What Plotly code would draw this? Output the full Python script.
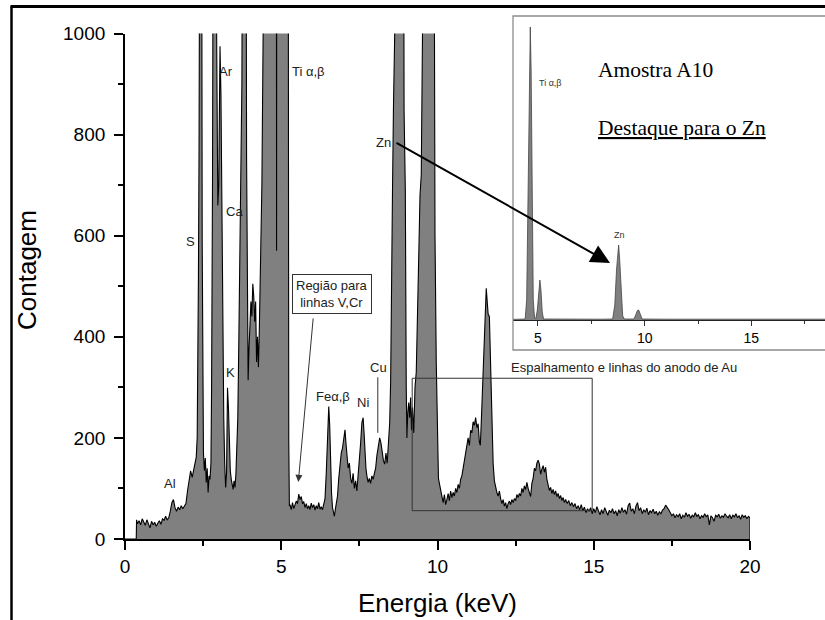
import plotly.graph_objects as go

# ---------------- main spectrum ----------------
energy_kev = [
    0.00, 0.36, 0.37, 0.40, 0.45, 0.50, 0.55, 0.60, 0.65, 0.70, 0.75, 0.80, 0.85, 0.90, 0.95,
    1.00, 1.05, 1.10, 1.15, 1.20, 1.25, 1.30, 1.35, 1.40, 1.45, 1.50, 1.55, 1.60, 1.65, 1.70,
    1.75, 1.80, 1.85, 1.90, 1.95, 2.00, 2.05, 2.10, 2.15, 2.20, 2.25, 2.28, 2.31, 2.33, 2.35,
    2.37, 2.39, 2.42, 2.45, 2.47, 2.49, 2.51, 2.54, 2.57, 2.60, 2.63, 2.66, 2.69, 2.72, 2.75,
    2.77, 2.80, 2.83, 2.88, 2.91, 2.94, 2.97, 3.00, 3.04, 3.07, 3.10, 3.13, 3.16, 3.19, 3.22,
    3.25, 3.28, 3.31, 3.34, 3.37, 3.40, 3.43, 3.46, 3.49, 3.52, 3.55, 3.58, 3.61, 3.64, 3.67,
    3.71, 3.74, 3.77, 3.82, 3.87, 3.89, 3.92, 3.94, 3.97, 4.00, 4.03, 4.06, 4.09, 4.12, 4.15,
    4.18, 4.21, 4.24, 4.27, 4.30, 4.34, 4.38, 4.42, 4.45, 4.84, 4.85, 4.86, 5.20, 5.22, 5.24,
    5.26, 5.28, 5.32, 5.36, 5.40, 5.44, 5.48, 5.52, 5.56, 5.60, 5.64, 5.68, 5.72, 5.76, 5.80,
    5.84, 5.88, 5.92, 5.96, 6.00, 6.04, 6.08, 6.12, 6.16, 6.20, 6.24, 6.28, 6.32, 6.36, 6.40,
    6.44, 6.48, 6.52, 6.55, 6.58, 6.61, 6.64, 6.67, 6.70, 6.73, 6.76, 6.80, 6.84, 6.88, 6.92,
    6.96, 7.00, 7.04, 7.07, 7.10, 7.14, 7.18, 7.22, 7.26, 7.30, 7.34, 7.38, 7.42, 7.46, 7.50,
    7.54, 7.58, 7.62, 7.65, 7.68, 7.71, 7.74, 7.78, 7.82, 7.86, 7.90, 7.94, 7.98, 8.02, 8.06,
    8.10, 8.15, 8.19, 8.23, 8.27, 8.31, 8.35, 8.39, 8.43, 8.47, 8.50, 8.53, 8.56, 8.59, 8.63,
    8.66, 8.90, 8.93, 8.97, 9.00, 9.02, 9.05, 9.08, 9.11, 9.14, 9.17, 9.20, 9.24, 9.28, 9.32,
    9.36, 9.40, 9.44, 9.48, 9.52, 9.55, 9.86, 9.89, 9.92, 9.96, 10.00, 10.03, 10.06, 10.10, 10.14, 10.18,
    10.22, 10.26, 10.30, 10.34, 10.38, 10.42, 10.46, 10.50, 10.54, 10.58, 10.62, 10.66, 10.70, 10.74, 10.78,
    10.82, 10.86, 10.90, 10.94, 10.98, 11.02, 11.06, 11.10, 11.14, 11.18, 11.22, 11.26, 11.30, 11.34, 11.37,
    11.40, 11.44, 11.48, 11.50, 11.53, 11.56, 11.59, 11.62, 11.66, 11.70, 11.74, 11.78, 11.82, 11.86, 11.90,
    11.94, 11.98, 12.02, 12.06, 12.10, 12.14, 12.18, 12.22, 12.26, 12.30, 12.34, 12.38, 12.42, 12.46, 12.50,
    12.54, 12.58, 12.62, 12.66, 12.70, 12.74, 12.78, 12.82, 12.86, 12.90, 12.94, 12.98, 13.02, 13.06, 13.10,
    13.14, 13.18, 13.22, 13.26, 13.30, 13.34, 13.38, 13.42, 13.46, 13.50, 13.54, 13.58, 13.62, 13.66, 13.70,
    13.74, 13.78, 13.82, 13.86, 13.90, 13.94, 13.98, 14.02, 14.06, 14.10, 14.15, 14.20, 14.25, 14.30, 14.35,
    14.40, 14.45, 14.50, 14.55, 14.60, 14.65, 14.70, 14.75, 14.80, 14.85, 14.90, 14.95, 15.00, 15.05, 15.10,
    15.15, 15.20, 15.25, 15.30, 15.35, 15.40, 15.45, 15.50, 15.55, 15.60, 15.65, 15.70, 15.75, 15.80, 15.85,
    15.90, 15.95, 16.00, 16.05, 16.10, 16.15, 16.20, 16.25, 16.30, 16.35, 16.40, 16.45, 16.50, 16.55, 16.60,
    16.65, 16.70, 16.75, 16.80, 16.85, 16.90, 16.95, 17.00, 17.05, 17.10, 17.15, 17.20, 17.25, 17.30, 17.35,
    17.40, 17.45, 17.50, 17.55, 17.60, 17.65, 17.70, 17.75, 17.80, 17.85, 17.90, 17.95, 18.00, 18.05, 18.10,
    18.15, 18.20, 18.25, 18.30, 18.35, 18.40, 18.45, 18.50, 18.55, 18.60, 18.65, 18.70, 18.75, 18.80, 18.85,
    18.90, 18.95, 19.00, 19.05, 19.10, 19.15, 19.20, 19.25, 19.30, 19.35, 19.40, 19.45, 19.50, 19.55, 19.60,
    19.65, 19.70, 19.75, 19.80, 19.85, 19.90, 19.95, 20.00, 20.00,
]
counts = [
    0, 0, 38, 30, 36, 28, 40, 33, 27, 38, 30, 22, 35, 28, 33,
    25, 31, 36, 29, 40, 37, 45, 38, 42, 55, 72, 78, 62, 55, 63,
    58, 66, 60, 64, 70, 95, 118, 135, 122, 140, 150, 162, 200, 310, 520,
    780, 1500, 2000, 1500, 590, 300, 170, 135, 160, 112, 140, 92, 125, 118, 150,
    290, 700, 1500, 1800, 1200, 850, 660, 700, 975, 880, 600, 400, 240, 150, 102,
    130, 299, 260, 170, 135, 118, 108, 98, 115, 102, 130, 170, 240, 380, 530,
    700, 900, 1500, 2000, 1500, 760, 400, 314, 380, 420, 470, 440, 505, 480, 430,
    470, 350, 400, 340, 420, 560, 700, 1000, 2000, 2000, 570, 2000, 2000, 1500, 200,
    65, 68, 58, 72, 60, 66, 75, 70, 89, 78, 84, 70, 74, 62, 70,
    60, 66, 58, 71, 62, 68, 57, 66, 60, 72, 59, 64, 58, 67, 80,
    130, 200, 262, 225, 150, 90, 62, 55, 45, 58, 70, 85, 120, 150, 170,
    180, 205, 216, 190, 165, 140, 150, 120, 110, 130, 100, 115, 95, 125, 150,
    190, 230, 240, 210, 170, 140, 125, 112, 120, 110, 125, 118, 130, 140, 165,
    180, 200, 190, 170, 155, 148, 170, 150, 185, 230, 310, 450, 690, 850, 1100,
    2000, 2000, 850, 690, 300, 200, 250, 270, 240, 280, 215, 260, 210, 300, 330,
    420, 560, 680, 720, 1000, 2000, 2000, 1000, 600, 350, 180, 120, 110, 95, 80, 72,
    88, 68, 78, 90, 76, 95, 82, 92, 85, 100, 92, 108, 100, 118, 125,
    140, 155, 175, 190, 200, 185, 215, 210, 232, 225, 240, 220, 228, 192, 185,
    230, 300, 380, 400, 470, 496, 470, 445, 440, 330, 220, 150, 115, 100, 92,
    85, 95, 80, 70, 78, 65, 72, 60, 70, 75, 68, 78, 72, 80, 76,
    88, 82, 90, 85, 100, 92, 105, 98, 112, 100, 92, 84, 110, 120, 140,
    135, 150, 156, 148, 128, 138, 145, 132, 142, 118, 105, 96, 102, 90, 98,
    88, 95, 84, 90, 80, 86, 76, 82, 72, 78, 70, 76, 66, 72, 64,
    70, 60, 66, 58, 68, 56, 63, 52, 60, 55, 62, 50, 60, 52, 64,
    55, 48, 58, 50, 62, 54, 47, 57, 52, 60, 50, 56, 46, 58, 51,
    62, 53, 58, 49, 66, 71, 55, 60, 50, 65, 72, 56, 62, 50, 58,
    53, 61, 48, 56, 52, 59, 50, 55, 47, 54, 50, 57, 60, 67, 63,
    58, 52, 46, 50, 42, 48, 44, 50, 40, 47, 43, 52, 45, 49, 41,
    47, 44, 52, 45, 48, 40, 46, 43, 50, 44, 48, 28, 46, 42, 35,
    47, 44, 49, 41, 46, 43, 50, 45, 42, 48, 40, 47, 44, 50, 42,
    46, 39, 48, 43, 46, 40, 45, 42, 0,
]

# ---------------- inset spectrum ----------------
inset_energy = [3.83, 4.40, 4.47, 4.53, 4.60, 4.64, 4.68, 4.73, 4.78, 4.84, 4.90, 4.97, 5.04, 5.09,
                5.14, 5.20, 5.26, 6.00, 7.00, 8.00, 8.50, 8.60, 8.68, 8.74, 8.78, 8.83, 8.90, 8.97,
                9.05, 9.50, 9.58, 9.66, 9.72, 9.80, 9.88, 11.0, 13.0, 15.0, 17.0, 18.5]
inset_counts = [6, 10, 200, 1200, 2700, 2930, 2500, 1000, 200, 20, 15, 100, 330, 400,
                300, 80, 10, 8, 8, 8, 10, 150, 500, 720, 750, 600, 250, 40,
                10, 10, 50, 95, 100, 50, 10, 8, 8, 8, 8, 8]

# axis ticks
main_x_ticks = [0, 5, 10, 15, 20]
main_y_ticks = [0, 200, 400, 600, 800, 1000]
inset_x_ticks = [5, 10, 15]

# peak labels (text, energy, counts)
peak_labels = [("Al", 1.44, 109), ("S", 2.11, 588), ("Ar", 3.23, 924), ("Ca", 3.49, 647),
               ("K", 3.36, 330), ("Fe\u03b1,\u03b2", 6.66, 281), ("Ni", 7.62, 271),
               ("Cu", 8.10, 340), ("Zn", 8.26, 785)]

W, H = 825, 620
SANS = "Liberation Sans, Arial, sans-serif"
SERIF = "Liberation Serif, Times New Roman, serif"
TXT = "#222222"

def px(x):
    return x / W

def py(y):
    return 1 - y / H

fig = go.Figure()
fig.add_trace(go.Scatter(x=energy_kev, y=counts, mode="lines",
                         line=dict(color="black", width=1.1),
                         fill="tozeroy", fillcolor="#808080",
                         xaxis="x", yaxis="y", hoverinfo="skip"))
fig.add_trace(go.Scatter(x=inset_energy, y=inset_counts, mode="lines",
                         line=dict(color="#444444", width=0.8),
                         fill="tozeroy", fillcolor="#808080",
                         xaxis="x2", yaxis="y2", hoverinfo="skip"))

axis_common = dict(showgrid=False, zeroline=False, showline=True, linecolor="black",
                   linewidth=1.8, ticks="outside", ticklen=9, tickwidth=1.8,
                   tickcolor="black", tickfont=dict(family=SANS, size=19, color="black"),
                   automargin=False)

fig.update_layout(
    template="none",
    width=W, height=H,
    margin=dict(l=0, r=0, t=0, b=0, pad=0, autoexpand=False),
    paper_bgcolor="white", plot_bgcolor="rgba(0,0,0,0)",
    showlegend=False,
    xaxis=dict(domain=[px(125), px(750)], range=[0, 20], anchor="y",
               tickvals=main_x_ticks, ticklabelstandoff=0,
               minor=dict(ticks="outside", ticklen=5, tickwidth=1.5, tickcolor="black",
                          dtick=2.5, tick0=0),
               **axis_common),
    yaxis=dict(domain=[py(539), py(33.5)], range=[0, 1000], anchor="x",
               tickvals=main_y_ticks, ticklabelstandoff=5,
               minor=dict(ticks="outside", ticklen=5, tickwidth=1.5, tickcolor="black",
                          dtick=100, tick0=0),
               **axis_common),
    xaxis2=dict(domain=[px(513), 1.0], range=[3.83, 18.45], anchor="y2",
                showgrid=False, zeroline=False, showline=True, linecolor="#222222",
                linewidth=1.2, ticks="outside", ticklen=5, tickwidth=1.2,
                tickcolor="#333333", tickvals=inset_x_ticks, automargin=False,
                tickfont=dict(family=SANS, size=14, color="black"),
                minor=dict(ticks="outside", ticklen=3, tickwidth=1, tickcolor="#333333",
                           dtick=2.5, tick0=0)),
    yaxis2=dict(domain=[py(320), py(20)], range=[0, 3000], anchor="x2", visible=False,
                automargin=False),
)

shapes = [
    # outer frame (left and top)
    dict(type="line", xref="paper", yref="paper", x0=px(11.5), x1=px(11.5), y0=-0.05, y1=py(6.5),
         line=dict(color="black", width=2.5)),
    dict(type="line", xref="paper", yref="paper", x0=px(10.5), x1=1.05, y0=py(6.5), y1=py(6.5),
         line=dict(color="black", width=2.8)),
    # inset box
    dict(type="rect", xref="paper", yref="paper", x0=px(513), x1=1.05, y0=py(350), y1=py(16),
         line=dict(color="#8c8c8c", width=1.3)),
    # Au-region rectangle
    dict(type="rect", xref="x", yref="y", x0=9.19, x1=14.95, y0=56, y1=318,
         line=dict(color="#333333", width=1)),
    # Cu pointer
    dict(type="line", xref="x", yref="y", x0=8.09, x1=8.09, y0=210, y1=320,
         line=dict(color="#333333", width=1)),
]
fig.update_layout(shapes=shapes)

ann = []
for t, e, c in peak_labels:
    ann.append(dict(x=e, y=c, xref="x", yref="y", text=t, showarrow=False,
                    xanchor="center", yanchor="middle",
                    font=dict(family=SANS, size=13, color=TXT)))
ann.append(dict(x=5.28, y=924, xref="x", yref="y", text="Ti \u03b1,\u03b2", showarrow=False,
                xanchor="left", yanchor="middle", font=dict(family=SANS, size=13, color=TXT)))
ann.append(dict(x=15.97, y=340, xref="x", yref="y", text="Espalhamento e linhas do anodo de Au",
                showarrow=False, xanchor="center", yanchor="middle",
                font=dict(family=SANS, size=13, color=TXT)))
ann.append(dict(x=6.61, y=484, xref="x", yref="y", text="Região para<br>linhas V,Cr",
                showarrow=False, xanchor="center", yanchor="middle",
                bgcolor="white", bordercolor="#333333", borderwidth=1,
                borderpad=3, font=dict(family=SANS, size=13, color=TXT)))
# arrow from the V,Cr box
ann.append(dict(x=5.546, y=113, xref="x", yref="y", text="", showarrow=True,
                ax=15, ay=-165, arrowhead=2, arrowsize=1.4, arrowwidth=1,
                arrowcolor="#333333"))
# Zn arrow to inset
ann.append(dict(x=px(610), y=py(263), xref="paper", yref="paper", text="", showarrow=True,
                ax=-215, ay=-121, arrowhead=2, arrowsize=1.9, arrowwidth=2,
                arrowcolor="black"))
# axis titles
ann.append(dict(x=px(437.5), y=py(603), xref="paper", yref="paper", text="Energia (keV)",
                showarrow=False, xanchor="center", yanchor="middle",
                font=dict(family=SANS, size=26, color="black")))
ann.append(dict(x=px(27), y=py(270), xref="paper", yref="paper", text="Contagem",
                textangle=-90, showarrow=False, xanchor="center", yanchor="middle",
                font=dict(family=SANS, size=26, color="black")))
# inset texts
ann.append(dict(x=px(596), y=py(70), xref="paper", yref="paper", text="Amostra A10",
                xanchor="left", yanchor="middle", showarrow=False,
                font=dict(family=SERIF, size=21.5, color="black")))
ann.append(dict(x=px(596), y=py(128), xref="paper", yref="paper", text="<u>Destaque para o Zn</u>",
                xanchor="left", yanchor="middle", showarrow=False,
                font=dict(family=SERIF, size=21.5, color="black")))
ann.append(dict(x=px(537), y=py(83), xref="paper", yref="paper", text="Ti \u03b1,\u03b2",
                xanchor="left", yanchor="middle", showarrow=False,
                font=dict(family=SANS, size=9, color="#333333")))
ann.append(dict(x=px(619), y=py(235), xref="paper", yref="paper", text="Zn",
                xanchor="center", yanchor="middle", showarrow=False,
                font=dict(family=SANS, size=9, color="#333333")))
fig.update_layout(annotations=ann)

fig.write_html("out.html", config={"displayModeBar": False},
               post_script="document.body.style.margin='0px';")
